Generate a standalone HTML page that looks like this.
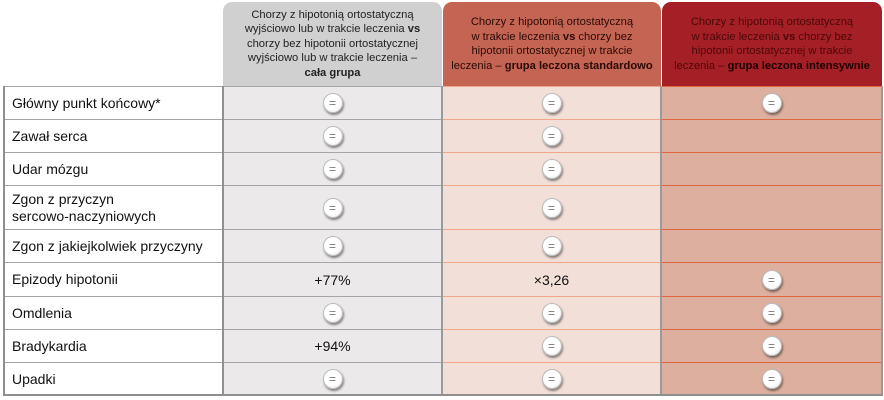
<!DOCTYPE html>
<html><head><meta charset="utf-8">
<style>
body{margin:0;background:#fff;font-family:"Liberation Sans","DejaVu Sans",sans-serif;}
#wrap{position:relative;width:884px;height:400px;overflow:hidden;background:#fff;}
.abs{position:absolute;box-sizing:border-box;}
.hdr{border-radius:9px 9px 0 0;display:flex;align-items:center;justify-content:center;text-align:center;font-size:11.2px;line-height:14.5px;white-space:nowrap;}
.hdr span{display:block;}
.lbl{font-size:14px;color:#111;padding-left:8px;display:flex;align-items:center;line-height:17px;}
.lbl span{display:block;}
.val{display:flex;align-items:center;justify-content:center;font-size:14px;color:#111;}
.eq{width:20px;height:20px;border-radius:50%;background:radial-gradient(circle at 40% 35%,#fff 55%,#e4e4e4 100%);box-shadow:1px 2px 2px rgba(0,0,0,0.45);border:1px solid #bbb;box-sizing:border-box;display:flex;align-items:center;justify-content:center;font-size:12px;color:#777;line-height:1;}
</style></head><body>
<div id="wrap"></div>
<script>
const rowLabels=["Główny punkt końcowy*","Zawał serca","Udar mózgu","Zgon z przyczyn<br>sercowo-naczyniowych","Zgon z jakiejkolwiek przyczyny","Epizody hipotonii","Omdlenia","Bradykardia","Upadki"];
const colWhole=["=","=","=","=","=","+77%","=","+94%","="];
const colStandard=["=","=","=","=","=","×3,26","=","=","="];
const colIntensive=["=","","","","","=","=","=","="];
const rowEdges=[86,119,152,185,229,262,296,329,362,395];
const W=document.getElementById('wrap');
function mk(cls,x,y,w,h,css){const d=document.createElement('div');d.className='abs '+cls;d.style.left=x+'px';d.style.top=y+'px';d.style.width=w+'px';d.style.height=h+'px';if(css)d.style.cssText+=css;W.appendChild(d);return d;}
const cols=[
 {x:223,w:219,bg:'#ebe9e9',hbg:'#d1d0d0',hc:'#222',line:'#a5a5a5',data:colWhole,name:'whole-group',
  html:'Chorzy z hipotonią ortostatyczną<br>wyjściowo lub w trakcie leczenia <b>vs</b><br>chorzy bez hipotonii ortostatycznej<br>wyjściowo lub w trakcie leczenia –<br><b>cała grupa</b>'},
 {x:442,w:219,bg:'#f2e0d8',hbg:'#c46453',hc:'#2a0a05',line:'#f0a688',data:colStandard,name:'standard-group',
  html:'Chorzy z hipotonią ortostatyczną<br>w trakcie leczenia <b>vs</b> chorzy bez<br>hipotonii ortostatycznej w trakcie<br>leczenia – <b>grupa leczona standardowo</b>'},
 {x:661,w:221,bg:'#ddaf9f',hbg:'#a51f26',hc:'#4a0808',line:'#e0653d',data:colIntensive,name:'intensive-group',
  html:'Chorzy z hipotonią ortostatyczną<br>w trakcie leczenia <b>vs</b> chorzy bez<br>hipotonii ortostatycznej w trakcie<br>leczenia – <b style="color:#1a0000">grupa leczona intensywnie</b>'}
];
cols.forEach((c,ci)=>{
 const h=mk('hdr',c.x+(ci?1:0),2,c.w-(ci?1:0),84,'background:'+c.hbg+';color:'+c.hc+';');
 h.innerHTML='<span>'+c.html+'</span>';
 
 
 mk('',c.x,86,c.w,309,'background:'+c.bg+';');
 for(let r=0;r<rowLabels.length;r++){
  const y0=rowEdges[r],y1=rowEdges[r+1];
  const cell=mk('val',c.x,y0,c.w,y1-y0,'border-top:1.5px solid '+c.line+';');
  
  
  const v=c.data[r];
  if(v==='='){const e=document.createElement('div');e.className='eq';e.textContent='=';
   
   
   cell.appendChild(e);}
  else cell.textContent=v;
 }
});
for(let r=0;r<rowLabels.length;r++){
 const y0=rowEdges[r],y1=rowEdges[r+1];
 const l=mk('lbl',4,y0,219,y1-y0,'border-top:1.5px solid #a5a5a5;');
 l.innerHTML='<span>'+rowLabels[r]+'</span>';
 
 
}
mk('',3,86,1.5,310,'background:#8f8f8f;');
mk('',222,86,1.5,310,'background:#8f8f8f;');
mk('',441,86,1.5,310,'background:#9a9a9a;');
mk('',660,86,1.5,310,'background:#9a9a9a;');
mk('',881,86,1.5,310,'background:#9a9a9a;');
mk('',3,394,880,1.5,'background:#8f8f8f;');
</script>
</body></html>
